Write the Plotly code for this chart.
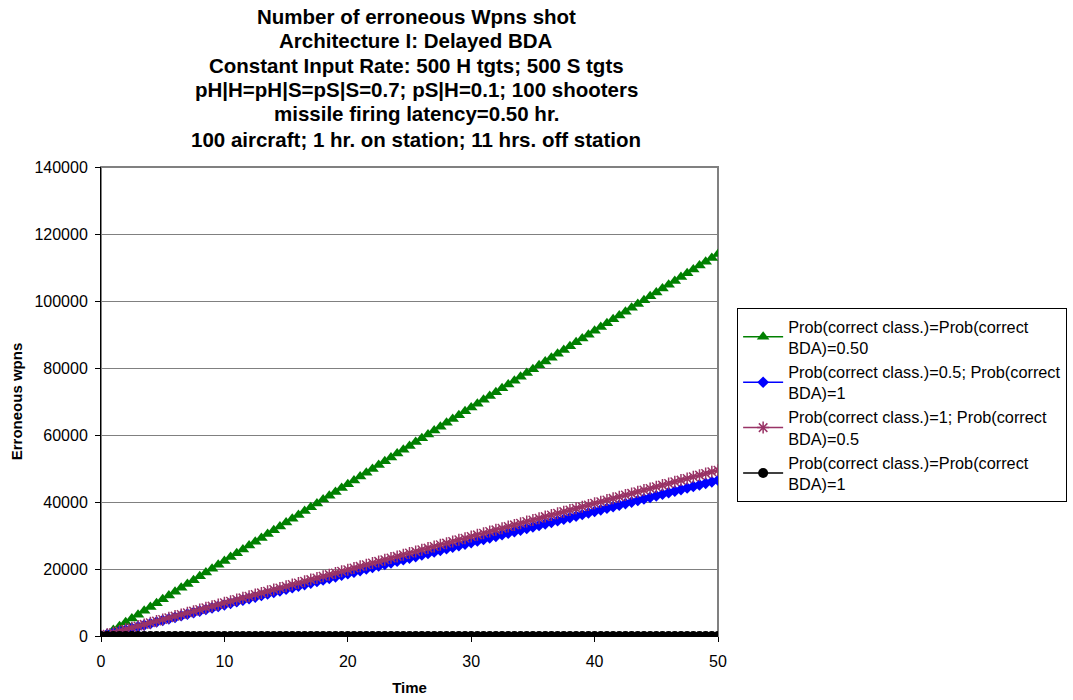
import plotly.graph_objects as go

time = [i * 0.5 for i in range(101)]

green_vals = [0, 600, 1790, 2935, 4080, 5225, 6370, 7515, 8660, 9805, 10950, 12095, 13240, 14385,
              15530, 16675, 17820, 18965, 20110, 21255, 22400, 23545, 24690, 25835, 26980, 28125,
              29270, 30415, 31560, 32705, 33850, 34995, 36140, 37285, 38430, 39575, 40720, 41865,
              43010, 44155, 45300, 46445, 47590, 48735, 49880, 51025, 52170, 53315, 54460, 55605,
              56750, 57895, 59040, 60185, 61330, 62475, 63620, 64765, 65910, 67055, 68200, 69345,
              70490, 71635, 72780, 73925, 75070, 76215, 77360, 78505, 79650, 80795, 81940, 83085,
              84230, 85375, 86520, 87665, 88810, 89955, 91100, 92245, 93390, 94535, 95680, 96825,
              97970, 99115, 100260, 101405, 102550, 103695, 104840, 105985, 107130, 108275, 109420,
              110565, 111710, 112855, 114000]

blue_vals = [0, 465, 930, 1395, 1860, 2325, 2790, 3255, 3720, 4185, 4650, 5115, 5580, 6045, 6510,
             6975, 7440, 7905, 8370, 8835, 9300, 9765, 10230, 10695, 11160, 11625, 12090, 12555,
             13020, 13485, 13950, 14415, 14880, 15345, 15810, 16275, 16740, 17205, 17670, 18135,
             18600, 19065, 19530, 19995, 20460, 20925, 21390, 21855, 22320, 22785, 23250, 23715,
             24180, 24645, 25110, 25575, 26040, 26505, 26970, 27435, 27900, 28365, 28830, 29295,
             29760, 30225, 30690, 31155, 31620, 32085, 32550, 33015, 33480, 33945, 34410, 34875,
             35340, 35805, 36270, 36735, 37200, 37665, 38130, 38595, 39060, 39525, 39990, 40455,
             40920, 41385, 41850, 42315, 42780, 43245, 43710, 44175, 44640, 45105, 45570, 46035,
             46500]

purple_vals = [0, 495, 990, 1485, 1980, 2475, 2970, 3465, 3960, 4455, 4950, 5445, 5940, 6435, 6930,
               7425, 7920, 8415, 8910, 9405, 9900, 10395, 10890, 11385, 11880, 12375, 12870, 13365,
               13860, 14355, 14850, 15345, 15840, 16335, 16830, 17325, 17820, 18315, 18810, 19305,
               19800, 20295, 20790, 21285, 21780, 22275, 22770, 23265, 23760, 24255, 24750, 25245,
               25740, 26235, 26730, 27225, 27720, 28215, 28710, 29205, 29700, 30195, 30690, 31185,
               31680, 32175, 32670, 33165, 33660, 34155, 34650, 35145, 35640, 36135, 36630, 37125,
               37620, 38115, 38610, 39105, 39600, 40095, 40590, 41085, 41580, 42075, 42570, 43065,
               43560, 44055, 44550, 45045, 45540, 46035, 46530, 47025, 47520, 48015, 48510, 49005,
               49500]

black_vals = [0] * 101

names = [
    "Prob(correct class.)=Prob(correct<br>BDA)=0.50",
    "Prob(correct class.)=0.5; Prob(correct<br>BDA)=1",
    "Prob(correct class.)=1; Prob(correct<br>BDA)=0.5",
    "Prob(correct class.)=Prob(correct<br>BDA)=1",
]

y_ticks = [0, 20000, 40000, 60000, 80000, 100000, 120000, 140000]
y_tick_labels = ["0", "20000", "40000", "60000", "80000", "100000", "120000", "140000"]
x_ticks = [0, 10, 20, 30, 40, 50]

title_lines = [
    "Number of erroneous Wpns shot",
    "Architecture I: Delayed BDA",
    "Constant Input Rate: 500 H tgts; 500 S tgts",
    "pH|H=pH|S=pS|S=0.7; pS|H=0.1; 100 shooters",
    "missile firing latency=0.50 hr.",
    "100 aircraft; 1 hr. on station; 11 hrs. off station",
]

FONT = "Liberation Sans, Arial, sans-serif"

fig = go.Figure()
fig.add_trace(go.Scatter(x=time, y=green_vals, name=names[0], mode="lines+markers",
                         line=dict(color="#008000", width=1.5),
                         marker=dict(symbol="triangle-up", size=11, color="#008000")))
fig.add_trace(go.Scatter(x=time, y=blue_vals, name=names[1], mode="lines+markers",
                         line=dict(color="#0000FF", width=1.5),
                         marker=dict(symbol="diamond", size=9, color="#0000FF")))
fig.add_trace(go.Scatter(x=time, y=purple_vals, name=names[2], mode="lines+markers",
                         line=dict(color="#993366", width=1.5),
                         marker=dict(symbol="asterisk", size=10, color="#993366",
                                     line=dict(color="#993366", width=1.5))))
fig.add_trace(go.Scatter(x=time, y=black_vals, name=names[3], mode="lines+markers",
                         line=dict(color="#000000", width=1.5),
                         marker=dict(symbol="circle", size=10, color="#000000")))

# title as separate lines (annotations) to control spacing
title_y_px = [17, 41, 65, 90, 114, 139]
for line, ypx in zip(title_lines, title_y_px):
    fig.add_annotation(text="<b>" + line + "</b>", xref="paper", yref="paper",
                       x=(416 - 101) / 617, y=(636 - ypx) / 469,
                       xanchor="center", yanchor="middle", showarrow=False,
                       font=dict(family=FONT, size=20.5, color="black"))

fig.update_layout(
    width=1073, height=700,
    margin=dict(l=101, r=355, t=167, b=64, autoexpand=False),
    paper_bgcolor="white", plot_bgcolor="white",
    font=dict(family=FONT, size=15, color="black"),
    legend=dict(x=1.031, y=0.699, xanchor="left", yanchor="top",
                bordercolor="black", borderwidth=1, bgcolor="white",
                font=dict(family=FONT, size=16.3, color="black"),
                itemwidth=40, tracegroupgap=2),
    showlegend=True,
)
fig.update_xaxes(range=[0, 50], tickvals=x_ticks, showgrid=False,
                 showline=True, linecolor="black", linewidth=1, ticks="outside",
                 ticklen=5, tickcolor="black", zeroline=False,
                 tickfont=dict(size=16), ticklabelstandoff=6,
                 title=dict(text="<b>Time</b>", font=dict(size=15), standoff=13))
fig.update_yaxes(range=[0, 140000], tickvals=y_ticks, ticktext=y_tick_labels,
                 showgrid=True, gridcolor="#808080", gridwidth=1,
                 showline=True, linecolor="black", linewidth=1, ticks="outside",
                 ticklen=5, tickcolor="black", zeroline=False,
                 tickfont=dict(size=16), ticklabelstandoff=4,
                 title=dict(text="<b>Erroneous wpns</b>", font=dict(size=15), standoff=8))

fig.add_shape(type="rect", xref="paper", yref="paper", x0=0, y0=0, x1=1, y1=1,
              line=dict(color="#808080", width=2), layer="below")

fig.write_html("out.html")
